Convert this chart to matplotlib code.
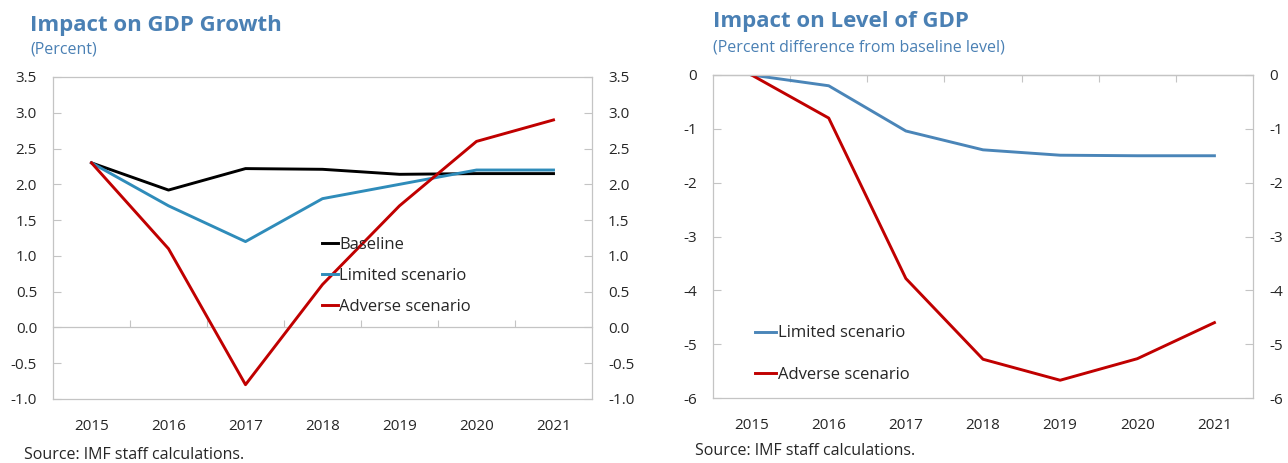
import matplotlib
matplotlib.use("Agg")
import matplotlib.pyplot as plt
from matplotlib.ticker import FormatStrFormatter, FixedLocator
import numpy as np

plt.rcParams['font.family'] = ['Open Sans', 'DejaVu Sans']

years = ["2015", "2016", "2017", "2018", "2019", "2020", "2021"]

# Left panel: Impact on GDP Growth (percent)
growth_baseline = [2.30, 1.92, 2.22, 2.21, 2.14, 2.15, 2.15]
growth_limited = [2.30, 1.70, 1.20, 1.80, 2.00, 2.20, 2.20]
growth_adverse = [2.30, 1.10, -0.80, 0.60, 1.70, 2.60, 2.90]

# Right panel: Impact on Level of GDP (percent difference from baseline level)
level_limited = [0.0, -0.20, -1.04, -1.39, -1.49, -1.50, -1.50]
level_adverse = [0.0, -0.80, -3.78, -5.28, -5.67, -5.27, -4.60]

left_yticks = [-1.0, -0.5, 0.0, 0.5, 1.0, 1.5, 2.0, 2.5, 3.0, 3.5]
right_yticks = [-6, -5, -4, -3, -2, -1, 0]

TITLE_C = '#4A80B4'
SPINE_C = '#C4C4C4'
BLACK = '#000000'
BLUE_L = '#2F8CBA'
BLUE_R = '#4A85B8'
RED = '#C00000'
TEXT_C = '#262626'
FS = 11
LEG_FS = 12

W, H = 1288, 463
fig = plt.figure(figsize=(W / 100, H / 100), dpi=100)


def px_axes(x0, y0, x1, y1):
    return fig.add_axes([x0 / W, 1 - y1 / H, (x1 - x0) / W, (y1 - y0) / H])


def style_axes(ax, yticks, fmt, zero_frac):
    x = np.arange(len(years))
    ax.set_xlim(-0.5, len(years) - 0.5)
    ax.set_ylim(min(yticks), max(yticks))
    ax.set_xticks(x)
    ax.set_xticklabels(years)
    ax.tick_params(axis='x', length=0, pad=14.5, labelsize=FS, labelcolor=TEXT_C)
    ax.set_yticks(yticks)
    ax.yaxis.set_major_formatter(FormatStrFormatter(fmt))
    ax.tick_params(axis='y', left=True, right=True, labelleft=True, labelright=True,
                   direction='in', length=6, width=0.8, color=SPINE_C, pad=11.5,
                   labelsize=FS, labelcolor=TEXT_C)
    for s in ax.spines.values():
        s.set_color(SPINE_C)
        s.set_linewidth(0.9)
    sec = ax.secondary_xaxis(zero_frac)
    sec.xaxis.set_major_locator(FixedLocator(list(np.arange(len(years) - 1) + 0.5)))
    sec.tick_params(axis='x', direction='in', length=5, width=0.8, color=SPINE_C,
                    labelbottom=False, labeltop=False)
    for s in sec.spines.values():
        s.set_color(SPINE_C)
        s.set_linewidth(0.9)
    return x


# Left panel
ax1 = px_axes(53, 77, 592, 399)
lo, hi = min(left_yticks), max(left_yticks)
x = style_axes(ax1, left_yticks, '%.1f', (0 - lo) / (hi - lo))
ax1.plot(x, growth_baseline, color=BLACK, lw=2.1, label='Baseline')
ax1.plot(x, growth_limited, color=BLUE_L, lw=2.1, label='Limited scenario')
ax1.plot(x, growth_adverse, color=RED, lw=2.1, label='Adverse scenario')
ax1.legend(loc='center left', bbox_to_anchor=(0.499, 0.382), frameon=False,
           fontsize=LEG_FS, handlelength=0.95, handletextpad=0.1,
           labelspacing=0.9, borderpad=0, borderaxespad=0, labelcolor=TEXT_C)

# Right panel
ax2 = px_axes(713, 75, 1253, 398)
x = style_axes(ax2, right_yticks, '%d', 1.0)
ax2.plot(x, level_limited, color=BLUE_R, lw=2.1, label='Limited scenario')
ax2.plot(x, level_adverse, color=RED, lw=2.1, label='Adverse scenario')
ax2.legend(loc='center left', bbox_to_anchor=(0.078, 0.135), frameon=False,
           fontsize=LEG_FS, handlelength=1.25, handletextpad=0.1,
           labelspacing=1.55, borderpad=0, borderaxespad=0, labelcolor=TEXT_C)

# Titles
fig.text(30 / W, 1 - 31 / H, 'Impact on GDP Growth', color=TITLE_C, fontsize=16,
         fontweight='bold', ha='left', va='baseline')
fig.text(30 / W, 1 - 54 / H, '(Percent)', color=TITLE_C, fontsize=11.5,
         ha='left', va='baseline')
fig.text(713 / W, 1 - 27 / H, 'Impact on Level of GDP', color=TITLE_C, fontsize=16,
         fontweight='bold', ha='left', va='baseline')
fig.text(713 / W, 1 - 51 / H, '(Percent difference from baseline level)', color=TITLE_C,
         fontsize=11.5, ha='left', va='baseline')

# Sources
fig.text(24 / W, 1 - 455 / H, 'Source: IMF staff calculations.', color=TEXT_C,
         fontsize=11.5, ha='left', va='center')
fig.text(695 / W, 1 - 451 / H, 'Source: IMF staff calculations.', color=TEXT_C,
         fontsize=11.5, ha='left', va='center')

fig.savefig('out.png', dpi=100)
